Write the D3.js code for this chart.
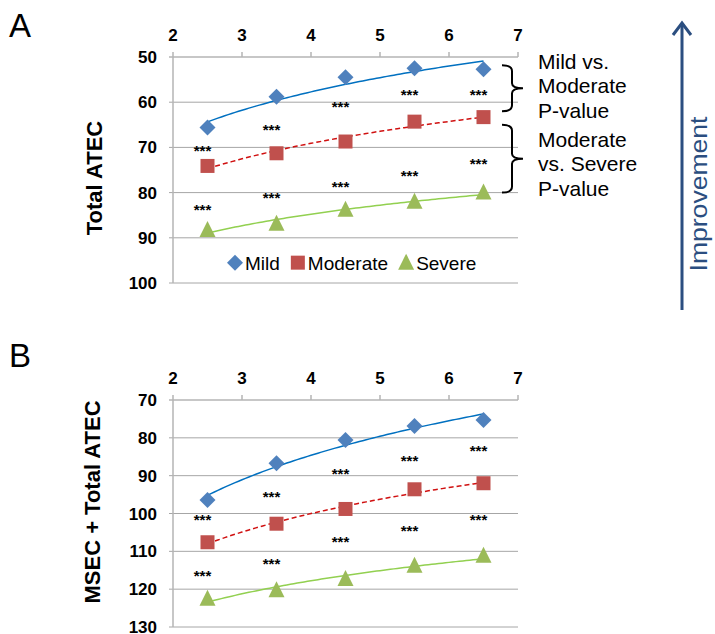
<!DOCTYPE html>
<html>
<head>
<meta charset="utf-8">
<script src="https://d3js.org/d3.v7.min.js"></script>
<style>
body { margin: 0; background: #fff; }
text { font-family: Arial, "Liberation Sans", sans-serif; }
.grid-line { stroke: #A6A6A6; stroke-width: 1px; }
.axis-line { stroke: #B4B4B4; stroke-width: 1.5px; fill: none; }
</style>
</head>
<body>
<script>
var ages = [2.5, 3.5, 4.5, 5.5, 6.5];
var xTicks = [2, 3, 4, 5, 6, 7];
var seriesNames = ["Mild", "Moderate", "Severe"];

var atecMild = [65.6, 58.8, 54.5, 52.5, 52.7];
var atecModerate = [74.1, 71.3, 68.7, 64.3, 63.3];
var atecSevere = [88.3, 86.9, 83.8, 82.0, 80.0];
var atecTicks = [50, 60, 70, 80, 90, 100];
var atecStarsMildMod = [70.0, 65.4, 60.2, 57.7, 57.7];
var atecStarsModSev = [83.0, 80.5, 78.0, 75.6, 73.0];

var msecMild = [96.4, 86.7, 80.6, 76.9, 75.3];
var msecModerate = [107.6, 102.7, 98.8, 93.6, 92.0];
var msecSevere = [122.5, 120.3, 117.3, 113.8, 111.2];
var msecTicks = [70, 80, 90, 100, 110, 120, 130];
var msecStarsMildMod = [100.8, 94.6, 88.6, 85.3, 82.5];
var msecStarsModSev = [115.7, 112.5, 106.5, 103.6, 100.8];

var markerColors = ["#4F81BD", "#C0504D", "#9BBB59"];
var trendColors = ["#0070C0", "#D01010", "#92D050"];

var svg = d3.select("body").append("svg")
  .attr("width", 715)
  .attr("height", 634);

var x = d3.scaleLinear().domain([2, 7]).range([173, 518]);

function marker(g, kind, cx, cy, color) {
  if (kind == 0) {
    g.append("path").attr("d", "M" + cx + "," + (cy - 8) + "L" + (cx + 8) + "," + cy + "L" + cx + "," + (cy + 8) + "L" + (cx - 8) + "," + cy + "Z")
      .attr("fill", color);
  } else if (kind == 1) {
    g.append("rect").attr("x", cx - 7).attr("y", cy - 7).attr("width", 14).attr("height", 14)
      .attr("fill", color);
  } else {
    g.append("path").attr("d", "M" + cx + "," + (cy - 9) + "L" + (cx + 8) + "," + (cy + 7) + "L" + (cx - 8) + "," + (cy + 7) + "Z")
      .attr("fill", color);
  }
}

// Excel-like logarithmic trend line
function logFit(xs, ys) {
  var lx = xs.map(Math.log);
  var mx = d3.mean(lx), my = d3.mean(ys);
  var sxy = d3.sum(lx, function(v, i) { return (v - mx) * (ys[i] - my); });
  var sxx = d3.sum(lx, function(v) { return (v - mx) * (v - mx); });
  var b = sxy / sxx;
  return function(t) { return my + b * (Math.log(t) - mx); };
}

function renderPanel(cfg) {
  var y = d3.scaleLinear().domain([cfg.ticks[0], cfg.ticks[cfg.ticks.length - 1]]).range(cfg.range);
  var g = svg.append("g");

  // gridlines
  g.selectAll(".grid-line").data(cfg.ticks.slice(1)).enter().append("line")
    .classed("grid-line", true)
    .attr("x1", x(2) - 4).attr("x2", x(7))
    .attr("y1", function(d) { return y(d); })
    .attr("y2", function(d) { return y(d); });

  // left axis
  g.append("line").classed("axis-line", true)
    .attr("x1", x(2)).attr("x2", x(2)).attr("y1", y.range()[0]).attr("y2", y.range()[1]);
  g.append("line").classed("axis-line", true)
    .attr("x1", x(2) - 4).attr("x2", x(2)).attr("y1", y.range()[0]).attr("y2", y.range()[0]);
  g.selectAll(".ylab").data(cfg.ticks).enter().append("text")
    .attr("x", x(2) - 16)
    .attr("y", function(d) { return y(d) + 6; })
    .attr("text-anchor", "end")
    .style("font-size", "17px")
    .style("font-weight", "bold")
    .text(function(d) { return d; });

  // top axis
  g.append("line").classed("axis-line", true)
    .attr("x1", x(2)).attr("x2", x(7)).attr("y1", y.range()[0]).attr("y2", y.range()[0]);
  g.selectAll(".xtick").data(xTicks).enter().append("line").classed("axis-line", true)
    .attr("x1", function(d) { return x(d); }).attr("x2", function(d) { return x(d); })
    .attr("y1", y.range()[0]).attr("y2", y.range()[0] - 5);
  g.selectAll(".xlab").data(xTicks).enter().append("text")
    .attr("x", function(d) { return x(d); })
    .attr("y", y.range()[0] - 16)
    .attr("text-anchor", "middle")
    .style("font-size", "17px")
    .style("font-weight", "bold")
    .text(function(d) { return d; });

  // trend lines
  cfg.series.forEach(function(vals, i) {
    var f = logFit(ages, vals);
    var pts = d3.range(2.5, 6.5001, 0.05);
    g.append("path")
      .attr("d", d3.line().x(function(t) { return x(t); }).y(function(t) { return y(f(t)); })(pts))
      .attr("fill", "none")
      .attr("stroke", trendColors[i])
      .attr("stroke-width", 1.5)
      .attr("stroke-dasharray", i == 1 ? "5,3" : null);
  });

  // markers
  cfg.series.forEach(function(vals, i) {
    vals.forEach(function(v, j) { marker(g, i, x(ages[j]), y(v), markerColors[i]); });
  });

  // significance stars
  cfg.stars.forEach(function(vals) {
    g.selectAll(null).data(vals).enter().append("text")
      .attr("x", function(d, j) { return x(ages[j]) - 5; })
      .attr("y", function(d) { return y(d) + 8.5; })
      .attr("text-anchor", "middle")
      .style("font-size", "15px")
      .style("font-weight", "bold")
      .text("***");
  });

  // y title
  g.append("text")
    .attr("transform", "translate(" + cfg.titleX + "," + cfg.titleY + ") rotate(-90)")
    .attr("text-anchor", "middle")
    .style("font-size", "22px")
    .style("font-weight", "bold")
    .text(cfg.title);

  // panel letter
  g.append("text").attr("x", 9).attr("y", cfg.letterY)
    .style("font-size", "33px")
    .text(cfg.letter);

  return y;
}

var yA = renderPanel({
  range: [57, 283], ticks: atecTicks,
  series: [atecMild, atecModerate, atecSevere],
  stars: [atecStarsMildMod, atecStarsModSev],
  title: "Total ATEC", titleX: 102, titleY: 178,
  letter: "A", letterY: 37
});

renderPanel({
  range: [400, 627], ticks: msecTicks,
  series: [msecMild, msecModerate, msecSevere],
  stars: [msecStarsMildMod, msecStarsModSev],
  title: "MSEC + Total ATEC", titleX: 100, titleY: 502,
  letter: "B", letterY: 367
});

// legend (panel A)
var legend = svg.append("g");
var lx = 228, ly = yA(95.5);
seriesNames.forEach(function(name, i) {
  marker(legend, i, lx + 7, ly, markerColors[i]);
  var t = legend.append("text").attr("x", lx + 17).attr("y", ly + 7)
    .style("font-size", "19px")
    .text(name);
  lx += 17 + t.node().getComputedTextLength() + 11;
});

// brackets
var bracketRanges = [[51.8, 62.0], [65.0, 80.0]];
var bracketLabels = [["Mild vs.", "Moderate", "P-value"], ["Moderate", "vs. Severe", "P-value"]];
var bracketTextY = [68.5, 146.5];
bracketRanges.forEach(function(r, i) {
  var bx = 512, y0 = yA(r[0]), y1 = yA(r[1]), ym = (y0 + y1) / 2;
  svg.append("path")
    .attr("d", "M" + (bx - 10) + "," + y0 + "Q" + bx + "," + y0 + " " + bx + "," + (y0 + 6) +
      "L" + bx + "," + (ym - 5) + "Q" + bx + "," + ym + " " + (bx + 11) + "," + ym +
      "Q" + bx + "," + ym + " " + bx + "," + (ym + 5) +
      "L" + bx + "," + (y1 - 6) + "Q" + bx + "," + y1 + " " + (bx - 10) + "," + y1)
    .attr("fill", "none").attr("stroke", "#000").attr("stroke-width", 2);
  bracketLabels[i].forEach(function(s, k) {
    svg.append("text").attr("x", 538).attr("y", bracketTextY[i] + k * 24.5)
      .style("font-size", "21px")
      .text(s);
  });
});

// improvement arrow
svg.append("line").attr("x1", 682).attr("x2", 682).attr("y1", 310).attr("y2", 23)
  .attr("stroke", "#2B4E80").attr("stroke-width", 3);
svg.append("path").attr("d", "M673,35L682,23L691,35")
  .attr("fill", "none").attr("stroke", "#2B4E80").attr("stroke-width", 3);
svg.append("text")
  .attr("transform", "translate(707,194) rotate(-90)")
  .attr("text-anchor", "middle")
  .attr("textLength", 155)
  .attr("lengthAdjust", "spacingAndGlyphs")
  .style("font-size", "23px")
  .style("fill", "#2B4E80")
  .text("Improvement");
</script>
</body>
</html>
